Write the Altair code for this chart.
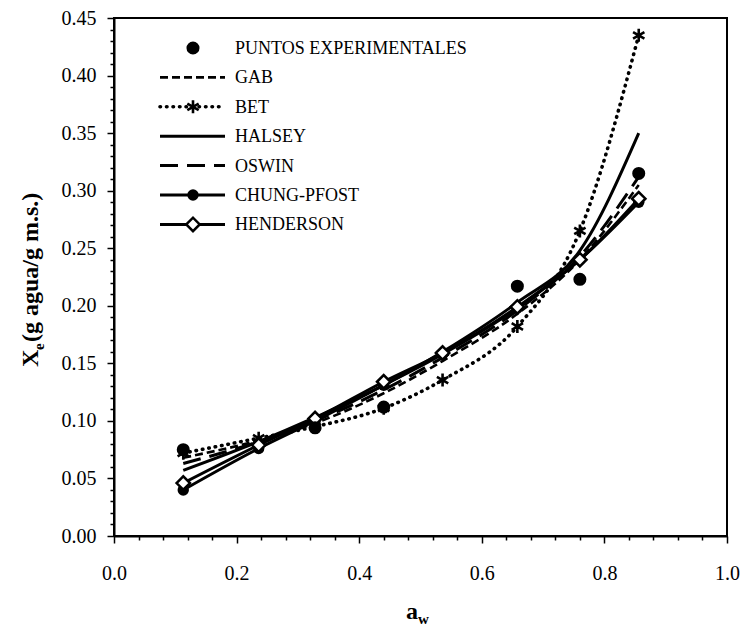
import altair as alt
import pandas as pd

# ---------------- data ----------------
AW = [0.113, 0.236, 0.328, 0.440, 0.536, 0.658, 0.760, 0.856]
GAB = [0.068, 0.083, 0.098, 0.124, 0.152, 0.193, 0.240, 0.305]
BET = [0.072, 0.085, 0.095, 0.111, 0.1355, 0.182, 0.265, 0.435]
HALSEY = [0.057, 0.082, 0.103, 0.131, 0.160, 0.203, 0.248, 0.350]
OSWIN = [0.063, 0.082, 0.100, 0.127, 0.155, 0.196, 0.243, 0.312]
CHUNG = [0.040, 0.076, 0.100, 0.131, 0.158, 0.198, 0.240, 0.290]
HENDERSON = [0.046, 0.079, 0.102, 0.134, 0.159, 0.199, 0.240, 0.293]

EXP_AW = [0.113, 0.328, 0.440, 0.658, 0.760, 0.856]
EXP_XE = [0.075, 0.094, 0.112, 0.217, 0.223, 0.315]

LEGEND_LABELS = ["PUNTOS EXPERIMENTALES", "GAB", "BET", "HALSEY", "OSWIN",
                 "CHUNG-PFOST", "HENDERSON"]
X_TICKS = [round(i * 0.04, 2) for i in range(26)]
Y_TICKS = [round(i * 0.01, 2) for i in range(46)]

# ---------------- styling ----------------
FONT = "Liberation Serif"
W, H = 613, 518
STAR = "M0,-1L0,1M-0.87,-0.5L0.87,0.5M-0.87,0.5L0.87,-0.5"

xs = alt.Scale(domain=[0, 1], nice=False, zero=False)
ys = alt.Scale(domain=[0, 0.45], nice=False, zero=False)
xmaj = "abs(datum.value*5 - round(datum.value*5)) < 0.001"
ymaj = "abs(datum.value*20 - round(datum.value*20)) < 0.001"

x_axis = alt.Axis(values=X_TICKS, title=None, grid=False,
                  labelExpr=f"{xmaj} ? format(datum.value, '.1f') : ''",
                  tickSize={"condition": {"test": xmaj, "value": 7}, "value": 4},
                  labelFont=FONT, labelFontSize=20, labelPadding=20,
                  labelColor="black", domainColor="black", domainWidth=2,
                  tickColor="black", tickWidth=1.5, labelOverlap=False,
                  labelFlush=False, labelBound=False)
y_axis = alt.Axis(values=Y_TICKS, title=None, grid=False,
                  labelExpr=f"{ymaj} ? format(datum.value, '.2f') : ''",
                  tickSize={"condition": {"test": ymaj, "value": 7}, "value": 4},
                  labelFont=FONT, labelFontSize=20, labelPadding=11,
                  labelColor="black", domainColor="black", domainWidth=2,
                  tickColor="black", tickWidth=1.5, labelOverlap=False,
                  labelFlush=False, labelBound=False)


def X(field="aw"):
    return alt.X(f"{field}:Q", scale=xs, axis=x_axis)


def Y(field="xe"):
    return alt.Y(f"{field}:Q", scale=ys, axis=y_axis)


def df(xv, yv):
    return pd.DataFrame({"aw": xv, "xe": yv})


line_styles = {
    "GAB": dict(strokeDash=[8, 4], strokeWidth=2.6),
    "BET": dict(strokeDash=[0.5, 6], strokeWidth=3.6, strokeCap="round"),
    "HALSEY": dict(strokeWidth=3),
    "OSWIN": dict(strokeDash=[18, 9], strokeWidth=3),
    "CHUNG-PFOST": dict(strokeWidth=3),
    "HENDERSON": dict(strokeWidth=3),
}
series = {"GAB": GAB, "BET": BET, "HALSEY": HALSEY, "OSWIN": OSWIN,
          "CHUNG-PFOST": CHUNG, "HENDERSON": HENDERSON}

marker_styles = {
    "PUNTOS EXPERIMENTALES": dict(shape="circle", filled=True, color="black", size=170, opacity=1),
    "BET": dict(shape=STAR, filled=False, stroke="black", strokeWidth=2.6, size=170, opacity=1),
    "CHUNG-PFOST": dict(shape="circle", filled=True, color="black", size=130, opacity=1),
    "HENDERSON": dict(shape="diamond", filled=True, fill="white", stroke="black",
                      strokeWidth=2.5, size=180, opacity=1),
}

layers = []
for name, vals in series.items():
    layers.append(alt.Chart(df(AW, vals)).mark_line(
        color="black", interpolate="monotone", **line_styles[name]).encode(x=X(), y=Y()))

for name, vals in [("CHUNG-PFOST", CHUNG), ("BET", BET), ("HENDERSON", HENDERSON)]:
    layers.append(alt.Chart(df(AW, vals)).mark_point(**marker_styles[name]).encode(x=X(), y=Y()))

layers.append(alt.Chart(df(EXP_AW, EXP_XE)).mark_point(
    **marker_styles["PUNTOS EXPERIMENTALES"]).encode(x=X(), y=Y()))

# ---------------- legend (inside the plot, top-left) ----------------
def px2x(p):
    return (p - 114) / W * 1.0


def px2y(p):
    return (536 - p) / H * 0.45


for i, name in enumerate(LEGEND_LABELS):
    ypx = 48 + 29.4 * i
    yv = px2y(ypx)
    x1, x2, xm, xt = px2x(160), px2x(225), px2x(193), px2x(235)
    if name in line_styles:
        layers.append(alt.Chart(pd.DataFrame({"aw": [x1], "aw2": [x2], "xe": [yv]})).mark_rule(
            color="black", **line_styles[name]).encode(x=X(), x2="aw2:Q", y=Y()))
    if name in marker_styles:
        layers.append(alt.Chart(df([xm], [yv])).mark_point(**marker_styles[name]).encode(x=X(), y=Y()))
    layers.append(alt.Chart(pd.DataFrame({"aw": [xt], "xe": [yv], "t": [name]})).mark_text(
        align="left", baseline="middle", font=FONT, fontSize=18, color="black", dy=1).encode(
        x=X(), y=Y(), text="t:N"))

# ---------------- axis titles (with subscripts) ----------------
layers.append(alt.Chart(pd.DataFrame({"t": ["a"]})).mark_text(
    align="right", baseline="alphabetic", font=FONT, fontSize=24, fontWeight="bold", color="black").encode(
    x=alt.value(304), y=alt.value(601), text="t:N"))
layers.append(alt.Chart(pd.DataFrame({"t": ["w"]})).mark_text(
    align="left", baseline="alphabetic", font=FONT, fontSize=15, fontWeight="bold", color="black").encode(
    x=alt.value(304), y=alt.value(606), text="t:N"))

layers.append(alt.Chart(pd.DataFrame({"t": ["X"]})).mark_text(
    align="left", baseline="alphabetic", angle=270, font=FONT, fontSize=24, fontWeight="bold", color="black").encode(
    x=alt.value(-76), y=alt.value(349), text="t:N"))
layers.append(alt.Chart(pd.DataFrame({"t": ["e"]})).mark_text(
    align="left", baseline="alphabetic", angle=270, font=FONT, fontSize=15, fontWeight="bold", color="black").encode(
    x=alt.value(-70), y=alt.value(332), text="t:N"))
layers.append(alt.Chart(pd.DataFrame({"t": [" (g agua/g m.s.)"]})).mark_text(
    align="left", baseline="alphabetic", angle=270, font=FONT, fontSize=24, fontWeight="bold", color="black").encode(
    x=alt.value(-76), y=alt.value(324), text="t:N"))

chart = alt.layer(*layers).properties(
    width=W, height=H,
    padding={"left": 114, "top": 18, "right": 14, "bottom": 99},
    autosize=alt.AutoSizeParams(type="none"),
    background="white",
).configure_view(stroke="black", strokeWidth=2)

chart.save("out.html", embed_options={"renderer": "svg", "actions": False})
